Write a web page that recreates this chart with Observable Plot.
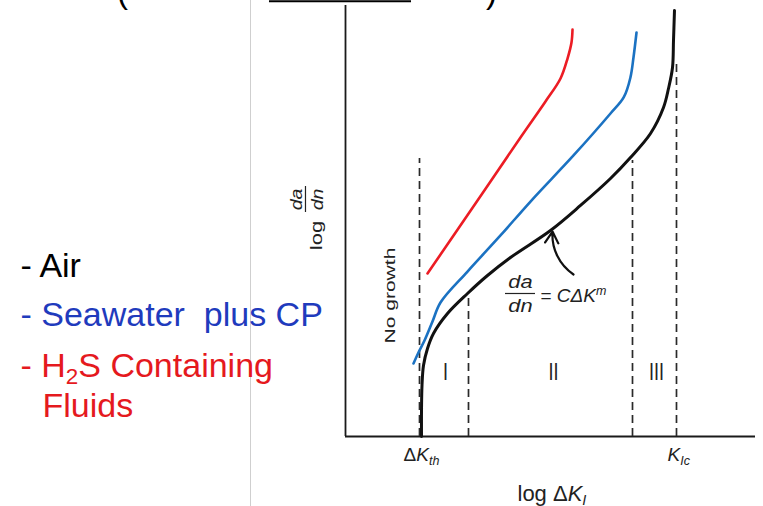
<!DOCTYPE html>
<html>
<head>
<meta charset="utf-8">
<script src="https://cdn.jsdelivr.net/npm/d3@7"></script>
<script src="https://cdn.jsdelivr.net/npm/@observablehq/plot@0.6"></script>
<style>
  html, body { margin: 0; padding: 0; background: #fff; }
  svg text { white-space: pre; }
</style>
</head>
<body>
<script>
// ---- Schematic data (arbitrary log units) ----
// Air
const airLogDK   = [1.854, 1.854, 1.866, 1.902, 2.000, 2.146, 2.488, 2.976, 3.463, 4.024, 5.000, 5.732, 6.463, 6.951, 7.439, 7.756, 7.878, 7.976, 8.000, 8.024];
const airLogDadn = [0.000, 0.603, 1.183, 1.647, 2.042, 2.390, 2.854, 3.318, 3.735, 4.153, 4.780, 5.360, 5.986, 6.473, 7.030, 7.633, 8.074, 8.561, 9.188, 9.884];
// Seawater plus CP
const seaLogDK   = [1.659, 1.780, 1.927, 2.122, 2.317, 2.976, 3.780, 4.512, 5.561, 6.463, 6.788, 6.951, 7.024, 7.098];
const seaLogDadn = [1.694, 1.949, 2.227, 2.668, 3.109, 3.828, 4.664, 5.452, 6.520, 7.494, 7.872, 8.337, 8.794, 9.374];
// H2S containing fluids
const h2sLogDK   = [2.000, 3.220, 4.268, 4.878, 5.244, 5.415, 5.512, 5.537];
const h2sLogDadn = [3.782, 5.476, 6.937, 7.773, 8.306, 8.770, 9.142, 9.443];

// Region boundaries (dashed) and their upper ends
const boundaryLogDK  = [1.805, 3.000, 7.000, 8.073];
const boundaryTop    = [6.450, 3.341, 6.404, 8.654];
const regionLabels   = ["I", "II", "III"];

const legendLabels = ["- Air", "- Seawater\u00a0 plus CP", "- H_{2}S Containing", "Fluids"];
const legendColors = ["#000000", "#1f3bbd", "#e5191e", "#e5191e"];

const mk = (xs, ys) => xs.map((x, i) => ({x, y: ys[i]}));

const stretch = {
  "No growth": [1.45, 1],
  "log": [1.3, 1],
  "|da|": [1.15, 1],
  "|dn|": [1.15, 1],
  "I": [1, 1.3], "II": [1, 1.3], "III": [1, 1.3]
};

const chart = Plot.plot({
  width: 763, height: 506,
  marginLeft: 345, marginRight: 8, marginTop: 5, marginBottom: 70,
  x: {domain: [0, 10], axis: null},
  y: {domain: [0, 10], axis: null},
  style: {fontFamily: "'Liberation Sans', Arial, sans-serif", background: "#fff", overflow: "visible"},
  marks: [
    // slide divider and cut-off header fragments
    Plot.ruleX([-2.317], {y1: -1.7, y2: 10.2, stroke: "#cfcfcf", strokeWidth: 1}),
    Plot.ruleY([10.1], {x1: -1.854, x2: 1.61, stroke: "#000", strokeWidth: 2}),
    Plot.text(["(", ")"], {x: [-5.439, 3.561], y: 10.05, text: d => d, fontSize: 33, lineAnchor: "bottom", fill: "#000"}),
    // axes
    Plot.ruleX([0], {y1: 0, y2: 10, stroke: "#1a1a1a", strokeWidth: 1.8}),
    Plot.ruleY([0], {x1: 0, x2: 10, stroke: "#1a1a1a", strokeWidth: 1.8}),
    // dashed region boundaries
    Plot.ruleX(mk(boundaryLogDK, boundaryTop), {x: "x", y1: 0, y2: "y", stroke: "#2a2a2a", strokeWidth: 1.7, strokeDasharray: "8,5"}),
    // curves
    Plot.line(mk(h2sLogDK, h2sLogDadn), {x: "x", y: "y", stroke: "#ec1c24", strokeWidth: 2.6, curve: "catmull-rom"}),
    Plot.line(mk(seaLogDK, seaLogDadn), {x: "x", y: "y", stroke: "#1b72c2", strokeWidth: 2.6, curve: "catmull-rom"}),
    Plot.line(mk(airLogDK, airLogDadn), {x: "x", y: "y", stroke: "#111", strokeWidth: 3, curve: "catmull-rom"}),
    // region labels
    Plot.text(regionLabels, {x: [2.439, 5.073, 7.585], y: 1.30, text: d => d, fontSize: 18, lineAnchor: "bottom", fill: "#222"}),
    // No growth
    Plot.text(["No growth"], {x: 1.098, y: 3.27, text: d => d, rotate: -90, fontSize: 14.5, fill: "#222"}),
    // y-axis label: log da/dn
    Plot.text(["log"], {x: -0.561, y: 4.664, text: d => d, rotate: -90, fontSize: 17, lineAnchor: "bottom", fill: "#222"}),
    Plot.text(["|da|", "|dn|"], {x: [-1.049, -0.537], y: 5.499, text: d => d, rotate: -90, fontSize: 17, lineAnchor: "bottom", fill: "#222"}),
    Plot.ruleX([-0.976], {y1: 5.197, y2: 5.800, stroke: "#222", strokeWidth: 1.2}),
    // Paris law annotation
    Plot.text(["|da|", "|dn|"], {x: 4.268, y: [3.434, 2.900], text: d => d, fontSize: 19, lineAnchor: "bottom", fill: "#222"}),
    Plot.ruleY([3.318], {x1: 3.902, x2: 4.634, stroke: "#222", strokeWidth: 1.2}),
    Plot.text(["= |CΔK^{m}|"], {x: 4.756, y: 3.132, text: d => d, fontSize: 19, textAnchor: "start", lineAnchor: "bottom", fill: "#222"}),
    Plot.arrow([0], {x1: 5.561, y1: 3.759, x2: 5.049, y2: 4.756, bend: 30, stroke: "#111", strokeWidth: 2.2, headLength: 9}),
    // x-axis labels
    Plot.text(["Δ|K_{th}|"], {x: 1.415, y: -0.557, text: d => d, fontSize: 19, textAnchor: "start", lineAnchor: "bottom", fill: "#222"}),
    Plot.text(["|K_{Ic}|"], {x: 7.854, y: -0.557, text: d => d, fontSize: 19, textAnchor: "start", lineAnchor: "bottom", fill: "#222"}),
    Plot.text(["log Δ|K_{I}|"], {x: 4.195, y: -1.485, text: d => d, fontSize: 22, textAnchor: "start", lineAnchor: "bottom", fill: "#222"}),
    // legend (slide text)
    Plot.text(legendLabels, {x: [-7.927, -7.927, -7.927, -7.390], y: [3.712, 2.575, 1.369, 0.441], text: d => d,
      fill: (d, i) => legendColors[legendLabels.indexOf(d)], fontSize: 34, textAnchor: "start", lineAnchor: "bottom"})
  ]
});
document.body.append(chart);

// rich text: "|" toggles italics, _{..} subscript, ^{..} superscript
const svgns = "http://www.w3.org/2000/svg";
function rich(el, s) {
  const fs = parseFloat(getComputedStyle(el).fontSize) || 16;
  el.textContent = "";
  let italic = false, buf = "", i = 0;
  const flush = (txt, mode) => {
    if (!txt) return;
    const t = document.createElementNS(svgns, "tspan");
    t.textContent = txt;
    if (italic) t.setAttribute("font-style", "italic");
    if (mode) {
      t.setAttribute("font-size", (fs * 0.66).toFixed(1));
      t.setAttribute("baseline-shift", mode === "_" ? (-0.2 * fs).toFixed(1) : (0.38 * fs).toFixed(1));
    }
    el.appendChild(t);
  };
  while (i < s.length) {
    const c = s[i];
    if (c === "|") { flush(buf); buf = ""; italic = !italic; i++; }
    else if ((c === "_" || c === "^") && s[i + 1] === "{") {
      flush(buf); buf = "";
      const j = s.indexOf("}", i);
      flush(s.slice(i + 2, j), c);
      i = j + 1;
    } else { buf += c; i++; }
  }
  flush(buf);
}
d3.select(chart).selectAll("text").each(function () {
  const s = this.textContent;
  if (stretch[s]) {
    const t = this.getAttribute("transform") || "";
    this.setAttribute("transform", t + ` scale(${stretch[s][0]},${stretch[s][1]})`);
  }
  if (/\||[_^]\{/.test(s)) rich(this, s);
});
</script>
</body>
</html>
